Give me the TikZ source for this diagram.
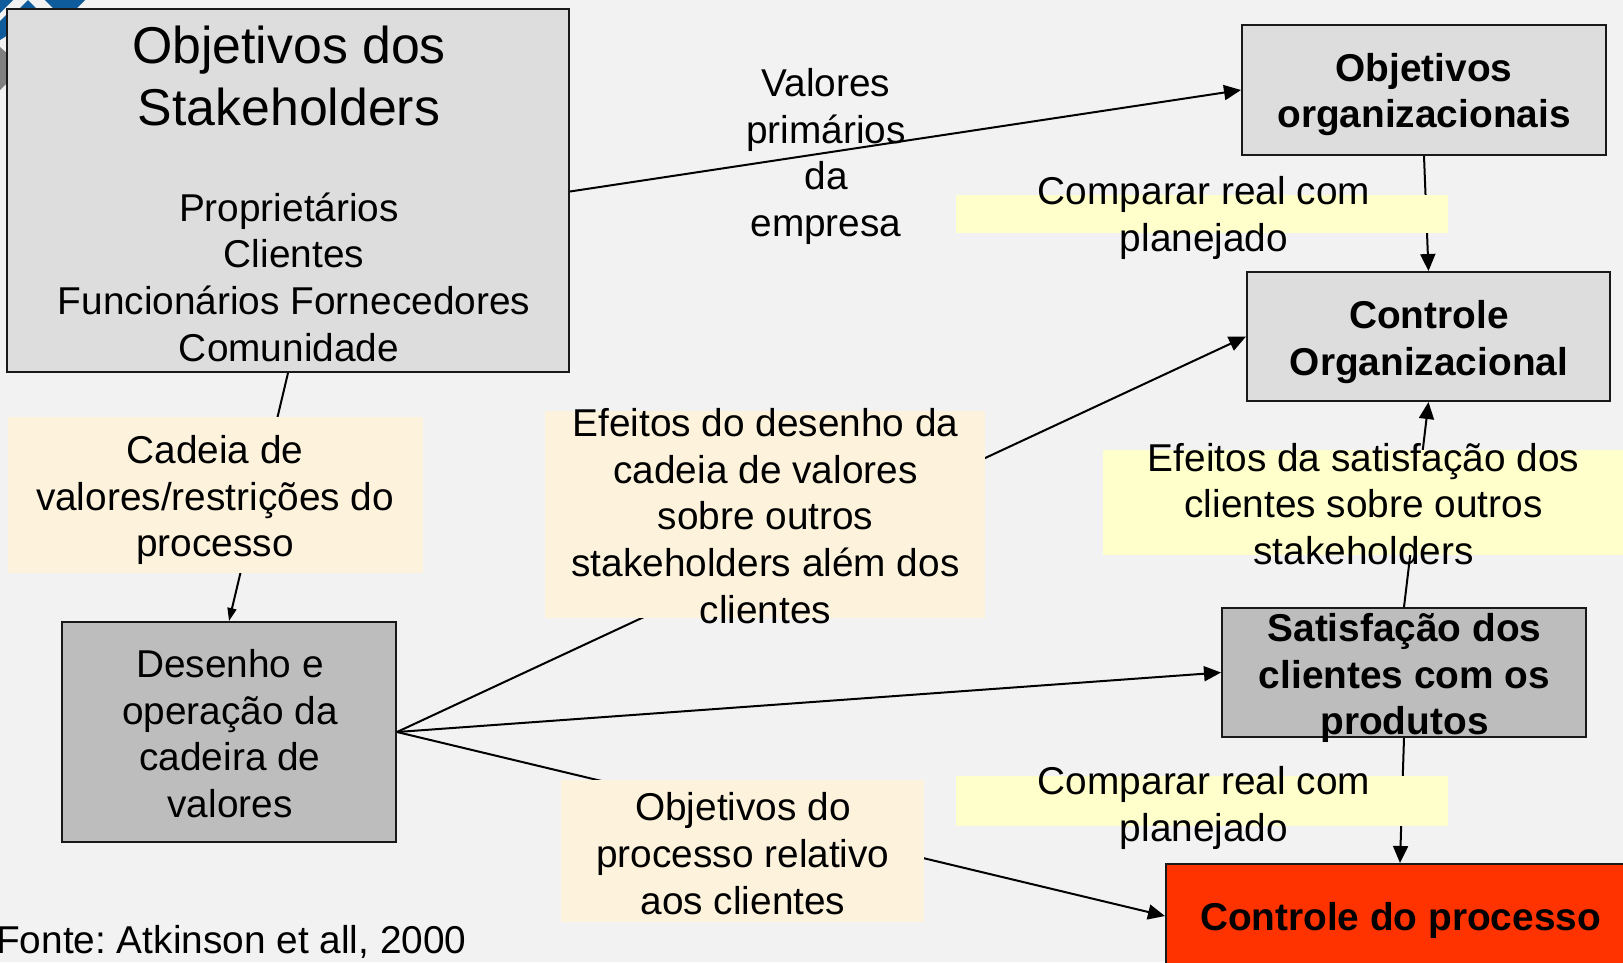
\documentclass[tikz,border=0pt]{standalone}
\usepackage{fontspec}
\setmainfont{Liberation Sans}
\usetikzlibrary{arrows.meta}
\definecolor{dBgCol}{HTML}{F2F2F2}
\definecolor{dLtCol}{HTML}{DDDDDD}
\definecolor{dDkCol}{HTML}{BDBDBD}
\definecolor{dRedCol}{HTML}{FF3300}
\definecolor{dYelCol}{HTML}{FFFFCC}
\definecolor{dSandCol}{HTML}{FDF3DD}
\definecolor{dLogoCol}{HTML}{0F5C9C}
\tikzset{
  txt/.style={inner sep=0pt, align=center, font=\fontsize{38.8}{46.7}\selectfont},
  bigtxt/.style={inner sep=0pt, align=center, font=\fontsize{51.8}{62}\selectfont},
  boldtxt/.style={txt, font=\fontsize{38.8}{46.7}\selectfont\bfseries},
  ltbox/.style={draw=black!90, line width=2pt, fill=dLtCol},
  dkbox/.style={draw=black!90, line width=2pt, fill=dDkCol},
  redbox/.style={draw=black!90, line width=2pt, fill=dRedCol},
  conn/.style={draw=black, line width=2pt, -{Triangle[length=17pt,width=15pt]}},
  connsm/.style={draw=black, line width=2pt, -{Triangle[length=13pt,width=9pt]}}
}
\begin{document}
\frenchspacing
\begin{tikzpicture}[x=1pt,y=-1pt]
  \useasboundingbox (0,0) rectangle (1623,962);
  \fill [dBgCol] (0,0) rectangle (1623,962);
  %% corner of the logo
  \fill [dLogoCol] (0,0) -- (13,0) -- (0,13) -- cycle;
  \fill [dLogoCol] (28,0) -- (37,9) -- (19,9) -- cycle;
  \fill [dLogoCol] (45,0) -- (85,0) -- (76,9) -- (54,9) -- cycle;
  \fill [dLogoCol] (0,21) -- (8,13) -- (8,35) -- (0,40) -- cycle;
  \fill [gray] (0,47) -- (8,54) -- (8,82) -- (0,90) -- cycle;

  %% boxes
  \node [ltbox, minimum width=562pt, minimum height=363pt] (stake) at (288,190.5) {};
  \node [ltbox, minimum width=364pt, minimum height=130pt] (objorg) at (1424,90) {};
  \node [ltbox, minimum width=363pt, minimum height=129pt] (ctrlorg) at (1428.5,336.5) {};
  \node [dkbox, minimum width=364pt, minimum height=129pt] (satisf) at (1404,672.5) {};
  \node [dkbox, minimum width=334pt, minimum height=220pt] (desenho) at (229,732) {};
  \node [redbox, minimum width=468pt, minimum height=104pt] (ctrlproc) at (1400,916) {};

  %% connectors, the patches come after them and hide parts of them
  \draw [conn] (stake.east) ++(0,1) -- (objorg.west);
  \draw [connsm] (stake.south) -- (desenho.north);
  \draw [conn] (objorg.south) -- (ctrlorg.north);
  \draw [conn] (satisf.north) -- (ctrlorg.south);
  \draw [conn] (satisf.south) -- (ctrlproc.north);
  \draw [conn] (desenho.east) -- (ctrlorg.west);
  \draw [conn] (desenho.east) -- (satisf.west);
  \draw [conn] (desenho.east) -- (ctrlproc.west);

  \fill [dYelCol] (956,195) coordinate (cmpA) rectangle (1448,233);
  \fill [dYelCol] (956,776) coordinate (cmpB) rectangle (1448,826);
  \fill [dYelCol] (1103,450) coordinate (efsat) rectangle (1623,555);
  \fill [dSandCol] (8,417) coordinate (cad) rectangle (423,573);
  \fill [dSandCol] (545,411) coordinate (efdes) rectangle (985,618);
  \fill [dSandCol] (561,780) coordinate (objproc) rectangle (924,922);

  %% texts
  \node [bigtxt] (stakeT) at (289,75.5) {Objetivos dos\\Stakeholders};
  \node [txt] (stakeL) at (289,277)
    {Proprietários\\\hspace*{10pt}Clientes\\\hspace*{10pt}Funcionários Fornecedores\\Comunidade};
  \node [boldtxt] (objorgT) at (1424,94.5) {Objetivos\\organizacionais};
  \node [boldtxt] (ctrlorgT) at (1429,342) {Controle\\Organizacional};
  \node [boldtxt] (satisfT) at (1404.5,678) {Satisfação dos\\clientes com os\\produtos};
  \node [boldtxt] (ctrlprocT) at (1400.5,920) {Controle do processo};
  \node [txt] (desenhoT) at (230,733.5) {Desenho e\\operação da\\cadeira de\\valores};
  \node [txt] (valoresT) at (826,156.5) {Valores\\primários\\da\\empresa};
  \node [txt] (cmpAT) at (1204,218) {Comparar real com\\planejado};
  \node [txt] (cmpBT) at (1204,808) {Comparar real com\\planejado};
  \node [txt] (efsatT) at (1363.5,504) {Efeitos da satisfação dos\\clientes sobre outros\\stakeholders};
  \node [txt] (efdesT) at (765.5,516) {Efeitos do desenho da\\cadeia de valores\\sobre outros\\stakeholders além dos\\clientes};
  \node [txt] (cadT) at (215,500) {Cadeia de\\valores/restrições do\\processo};
  \node [txt] (objprocT) at (743,853.5) {Objetivos do\\processo relativo\\aos clientes};
  \node [txt, anchor=west] (fonte) at (-4,942) {Fonte: Atkinson et all, 2000};
\end{tikzpicture}
\end{document}
